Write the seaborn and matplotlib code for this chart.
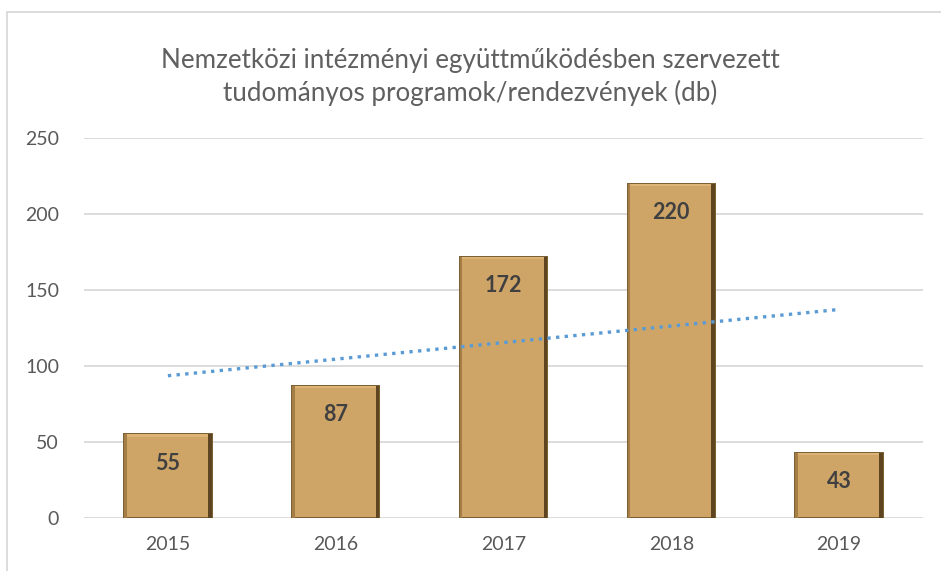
import matplotlib
matplotlib.use("Agg")
import matplotlib.pyplot as plt
import numpy as np
import pandas as pd
import seaborn as sns
from matplotlib.lines import Line2D
from matplotlib.patches import Rectangle

years = ["2015", "2016", "2017", "2018", "2019"]
values = [55, 87, 172, 220, 43]
title = "Nemzetközi intézményi együttműködésben szervezett\ntudományos programok/rendezvények (db)"

sns.set_style("white")
plt.rcParams["font.family"] = ["Lato", "DejaVu Sans"]

df = pd.DataFrame({"year": years, "count": values})

fig = plt.figure(figsize=(9.41, 5.71), dpi=100)
ax = fig.add_axes([84 / 941, 1 - 518 / 571, (923 - 84) / 941, (518 - 138) / 571])

sns.barplot(data=df, x="year", y="count", ax=ax, color="#CFA567",
            width=0.52, edgecolor="#7A5C2E", linewidth=1.4, saturation=1, zorder=3)

# bevel: light top strip, mid-brown left strip, dark right strip on each bar
for p in ax.patches[:len(values)]:
    x0, w, h = p.get_x(), p.get_width(), p.get_height()
    ax.add_patch(Rectangle((x0, h - 1.6), w, 1.6, facecolor="#DDB476",
                           edgecolor="none", zorder=4))
    ax.add_patch(Rectangle((x0 + w * 0.96, 0), w * 0.04, h, facecolor="#5E4522",
                           edgecolor="none", zorder=4))
    ax.add_patch(Rectangle((x0, 0), w * 0.028, h, facecolor="#A57E45",
                           edgecolor="none", zorder=4))

# value labels inside the bars, below the top edge
for i, v in enumerate(values):
    ax.annotate(str(v), (i, v), xytext=(0, -21), textcoords="offset points",
                ha="center", va="center", fontsize=15.5, fontweight="bold",
                color="#404040", zorder=5)

# linear trend line
xs = np.arange(len(values))
k, b = np.polyfit(xs, values, 1)
ax.plot(xs, k * xs + b, linestyle=(0, (1, 1.6)), color="#5B9BD5", linewidth=2.4, zorder=6)

ax.set_ylim(0, 250)
ax.set_xlim(-0.5, 4.5)
ax.set_yticks(range(0, 251, 50))
ax.yaxis.grid(True, color="#D9D9D9", linewidth=1.3, zorder=0)
ax.set_axisbelow(True)
for s in ax.spines.values():
    s.set_visible(False)
ax.set_xlabel("")
ax.set_ylabel("")
ax.tick_params(axis="both", length=0, labelsize=14, labelcolor="#595959")
ax.tick_params(axis="y", pad=18)
ax.tick_params(axis="x", pad=13)

fig.text(0.5, 1 - 77 / 571, title, ha="center", va="center", fontsize=18.7,
         color="#606060", linespacing=1.3)

# chart frame
fig.add_artist(Line2D([7 / 941, 7 / 941], [0, 1 - 12 / 571], color="#D9D9D9",
                      linewidth=1.3, transform=fig.transFigure))
fig.add_artist(Line2D([7 / 941, 1], [1 - 12 / 571, 1 - 12 / 571], color="#D9D9D9",
                      linewidth=1.3, transform=fig.transFigure))

fig.savefig("out.png", dpi=100)
